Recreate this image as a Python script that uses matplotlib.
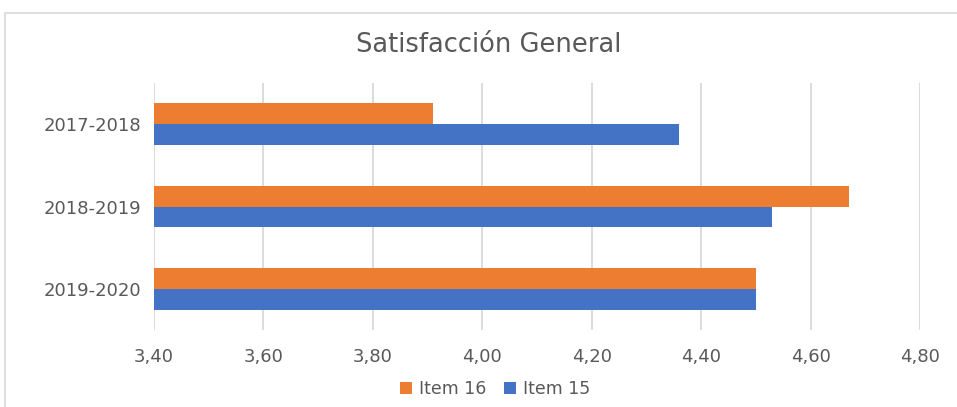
import matplotlib.pyplot as plt
import numpy as np
from matplotlib.patches import Rectangle

# datos
periodos = ["2017-2018", "2018-2019", "2019-2020"]
item16 = [3.91, 4.67, 4.50]
item15 = [4.36, 4.53, 4.50]
xticks = [3.40, 3.60, 3.80, 4.00, 4.20, 4.40, 4.60, 4.80]

plt.rcParams['font.family'] = ['DejaVu Sans']

fig = plt.figure(figsize=(9.57, 4.07), dpi=100)
ax = fig.add_axes([154 / 957, 77 / 407, 766 / 957, 247 / 407])

# marco del gráfico (recortado a la derecha y abajo)
fig.patches.append(Rectangle((5 / 957, -0.1), 1.2, (407 - 13) / 407 + 0.1,
                             transform=fig.transFigure, fill=False,
                             edgecolor='#d9d9d9', linewidth=1.2))

y = np.arange(len(periodos))
h = 0.255
ax.barh(y - h / 2, item16, height=h, left=0, color='#ED7D31', label='Item 16', zorder=3)
ax.barh(y + h / 2, item15, height=h, left=0, color='#4472C4', label='Item 15', zorder=3)

ax.set_xlim(3.40, 4.80)
ax.set_ylim(2.5, -0.5)
ax.set_xticks(xticks)
ax.set_xticklabels([f"{v:.2f}".replace('.', ',') for v in xticks])
ax.set_yticks(y)
ax.set_yticklabels(periodos)
ax.tick_params(axis='both', length=0, labelsize=13, colors='#595959')
ax.tick_params(axis='x', pad=13)
ax.tick_params(axis='y', pad=9)
ax.grid(axis='x', color='#d9d9d9', linewidth=1.3, zorder=0)
for s in ax.spines.values():
    s.set_visible(False)

fig.text(489 / 957, 1 - 45 / 407, "Satisfacción General", ha='center', va='center',
         fontsize=18.5, color='#595959')

ax.legend(loc='center', bbox_to_anchor=(495 / 957, 1 - 389 / 407),
          bbox_transform=fig.transFigure, ncol=2, frameon=False,
          fontsize=12.5, labelcolor='#595959', handlelength=0.7, handleheight=0.7,
          handletextpad=0.4, columnspacing=1.0)

fig.savefig("out.png", dpi=100)
